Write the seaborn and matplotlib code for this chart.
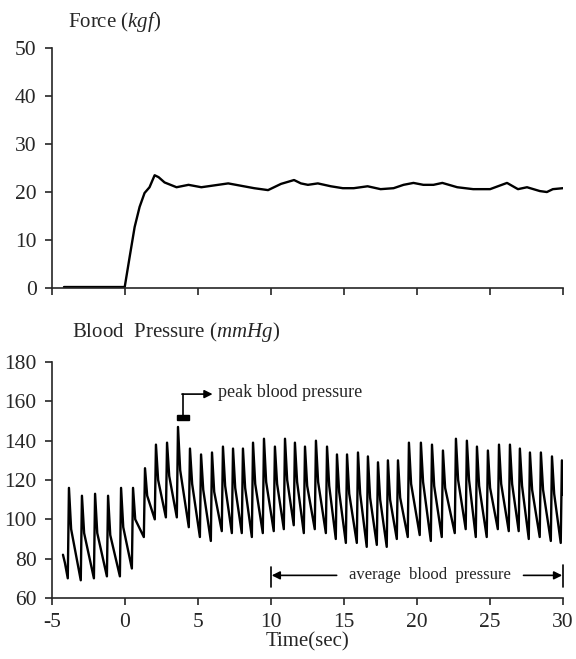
import numpy as np
import pandas as pd
import seaborn as sns
import matplotlib
matplotlib.use('Agg')
import matplotlib.pyplot as plt

# force trace (kgf)
force_t = [-4.18, -0.02, 0.32, 0.66, 1.0, 1.34, 1.68, 2.03, 2.3, 2.71, 3.53, 4.35,
           5.23, 7.07, 8.85, 9.8, 10.69, 11.58, 12.05, 12.53, 13.21, 14.1, 14.92,
           15.67, 16.62, 17.51, 18.4, 19.08, 19.76, 20.44, 21.13, 21.74, 22.76,
           23.85, 25.01, 26.17, 26.92, 27.54, 28.42, 28.9, 29.31, 30.0]
force_v = [0.2, 0.2, 6.5, 12.7, 16.9, 19.8, 21.0, 23.5, 23.1, 22.0, 21.0, 21.5,
           21.0, 21.8, 20.8, 20.4, 21.7, 22.5, 21.8, 21.5, 21.8, 21.2, 20.8,
           20.8, 21.2, 20.6, 20.8, 21.5, 21.9, 21.5, 21.5, 21.9, 21.0,
           20.6, 20.6, 21.9, 20.6, 21.0, 20.2, 20.0, 20.6, 20.8]

# blood pressure (mmHg): one entry per heart beat
beat_t = [-3.84, -2.95, -2.05, -1.16, -0.27, 0.55, 1.37, 2.12, 2.88, 3.63,
          4.45, 5.21, 5.96, 6.71, 7.40, 8.08, 8.77, 9.52, 10.27, 10.96,
          11.64, 12.33, 13.08, 13.84, 14.52, 15.21, 15.96, 16.64, 17.33, 18.01,
          18.70, 19.45, 20.27, 21.03, 21.78, 22.67, 23.42, 24.11, 24.86, 25.62,
          26.37, 27.05, 27.74, 28.49, 29.25, 29.93]
beat_peak = [116, 112, 113, 112, 116, 116, 126, 138, 139, 147,
             136, 133, 134, 137, 136, 136, 139, 141, 137, 141,
             139, 137, 140, 137, 133, 133, 134, 132, 129, 130,
             130, 139, 139, 138, 135, 141, 140, 137, 135, 138,
             138, 136, 134, 134, 132, 130]
beat_trough = [70, 69, 70, 71, 71, 75, 91, 100, 101, 101,
               96, 91, 89, 94, 93, 93, 91, 93, 94, 95,
               97, 93, 95, 93, 90, 88, 88, 86, 87, 86,
               90, 91, 92, 89, 91, 93, 95, 91, 91, 95,
               94, 94, 90, 91, 89, 88]
beat_notch = [95, 93, 93, 92, 96, 100, 112, 120, 122, 125,
              118, 115, 114, 117, 116, 116, 118, 119, 118, 120,
              119, 117, 119, 117, 114, 113, 113, 111, 110, 110,
              111, 118, 119, 117, 116, 120, 120, 117, 116, 118,
              118, 117, 115, 115, 113, 112]
bp_start_t = [-4.25, -4.12]
bp_start_v = [82, 78]
bp_end_t = [30.0]
bp_end_v = [113]

x_ticks = [-5, 0, 5, 10, 15, 20, 25, 30]

# build the pulse polyline: trough -> peak -> notch for every beat
bp_t = list(bp_start_t)
bp_v = list(bp_start_v)
for tp, pk, tr, nt in zip(beat_t, beat_peak, beat_trough, beat_notch):
    bp_t += [tp - 0.08, tp, tp + 0.15]
    bp_v += [tr, pk, nt]
bp_t += bp_end_t
bp_v += bp_end_v

force_df = pd.DataFrame({'t': force_t, 'v': force_v})
bp_df = pd.DataFrame({'t': bp_t, 'v': bp_v})

sns.set_style('ticks')
plt.rcParams['font.family'] = ['Liberation Serif', 'DejaVu Serif']
plt.rcParams['mathtext.fontset'] = 'custom'
plt.rcParams['mathtext.rm'] = 'Liberation Serif'
plt.rcParams['mathtext.it'] = 'Liberation Serif:italic'

fig = plt.figure(figsize=(5.76, 6.59), dpi=100)
ax1 = fig.add_axes([0.0903, 0.563, 0.887, 0.364])
ax2 = fig.add_axes([0.0903, 0.0926, 0.887, 0.358])

sns.lineplot(data=force_df, x='t', y='v', ax=ax1, color='black', lw=1.7,
             estimator=None, sort=False)
sns.lineplot(data=bp_df, x='t', y='v', ax=ax2, color='black', lw=1.7,
             estimator=None, sort=False)

for ax in (ax1, ax2):
    ax.set_xlim(-5, 30)
    ax.set_xticks(x_ticks)
    ax.set_xlabel('')
    ax.set_ylabel('')
    for s in ('top', 'right'):
        ax.spines[s].set_visible(False)
    for s in ('left', 'bottom'):
        ax.spines[s].set_linewidth(1.2)
    ax.tick_params(direction='out', length=5, width=1.2, labelsize=15.5, pad=6)

ax1.set_ylim(0, 50)
ax1.set_yticks([0, 10, 20, 30, 40, 50])
ax1.tick_params(axis='x', labelbottom=False)

ax2.set_ylim(60, 180)
ax2.set_yticks([60, 80, 100, 120, 140, 160, 180])
ax2.set_xticklabels([str(v) for v in x_ticks])
ax2.set_xlabel('Time(sec)', fontsize=15, labelpad=0)

fig.text(68 / 576, 1 - 22 / 659, r'Force $\mathit{(kgf)}$', fontsize=15, va='center')
fig.text(72 / 576, 1 - 332 / 659, r'Blood  Pressure $\mathit{(mmHg)}$', fontsize=15, va='center')

# peak blood pressure marker
ax2.add_patch(plt.Rectangle((3.56, 150.5), 0.82, 2.8, color='black', clip_on=False))
ax2.plot([3.97, 3.97], [153.3, 163.7], color='black', lw=1.2)
ax2.annotate('', xy=(6.0, 163.7), xytext=(3.9, 163.7),
             arrowprops=dict(arrowstyle='-|>', color='black', lw=1.2, mutation_scale=12,
                             shrinkA=0, shrinkB=0))
ax2.text(6.4, 164.5, 'peak blood pressure', fontsize=13, va='center', ha='left')

# average blood pressure span
ax2.plot([10, 10], [65.5, 76], color='black', lw=1.2)
ax2.plot([30, 30], [65.5, 77], color='black', lw=1.2, clip_on=False)
ax2.annotate('', xy=(10.05, 71.5), xytext=(14.5, 71.5),
             arrowprops=dict(arrowstyle='-|>', color='black', lw=1.2, mutation_scale=12,
                             shrinkA=0, shrinkB=0))
ax2.annotate('', xy=(29.95, 71.5), xytext=(27.3, 71.5),
             arrowprops=dict(arrowstyle='-|>', color='black', lw=1.2, mutation_scale=12,
                             shrinkA=0, shrinkB=0))
ax2.text(20.9, 71.8, 'average  blood  pressure', fontsize=12, va='center', ha='center')

plt.savefig('out.png', dpi=100)
